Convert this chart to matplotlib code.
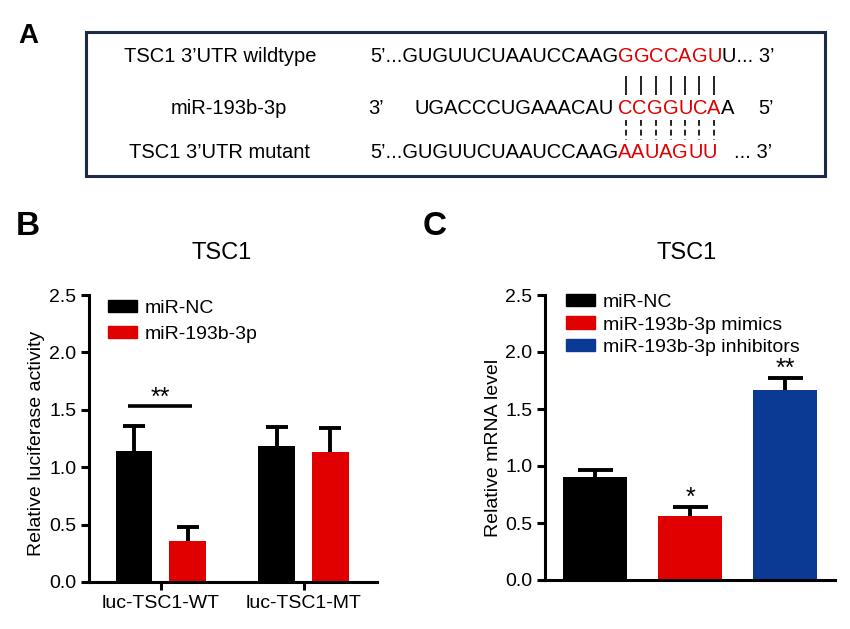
import matplotlib
matplotlib.use('Agg')
import matplotlib.pyplot as plt
import numpy as np
from matplotlib.patches import Rectangle, Patch

plt.rcParams['font.family'] = ['Liberation Sans', 'DejaVu Sans']

# ---------------- data ----------------
# Panel A: sequence alignment
row_labels = ["TSC1 3\u2019UTR wildtype", "miR-193b-3p", "TSC1 3\u2019UTR mutant"]
wt_left, wt_site, wt_right = "5\u2019...GUGUUCUAAUCCAAG", "GGCCAGU", "U... 3\u2019"
mir_end_l, mir_left, mir_site, mir_right, mir_end_r = "3\u2019", "UGACCCUGAAACAU", "CCGGUCA", "A", "5\u2019"
mut_left, mut_site, mut_right = "5\u2019...GUGUUCUAAUCCAAG", "AAUAGUU", "... 3\u2019"

# Panel B: luciferase assay
b_groups = ["luc-TSC1-WT", "luc-TSC1-MT"]
b_series = ["miR-NC", "miR-193b-3p"]
b_nc = [1.14, 1.185]
b_nc_err = [0.22, 0.165]
b_mir = [0.357, 1.132]
b_mir_err = [0.122, 0.209]
b_sig = "**"

# Panel C: qPCR
c_labels = ["miR-NC", "miR-193b-3p mimics", "miR-193b-3p inhibitors"]
c_vals = [0.904, 0.561, 1.667]
c_err = [0.061, 0.079, 0.105]
c_sig = ["", "*", "**"]

yticks = [0.0, 0.5, 1.0, 1.5, 2.0, 2.5]
ytick_labels = ["0.0", "0.5", "1.0", "1.5", "2.0", "2.5"]

RED = '#e00000'
BLUE = '#0a3a94'
BLACK = '#000000'
FS = 14
FSA = 14.5

W, H = 850, 629
fig = plt.figure(figsize=(W / 100, H / 100), dpi=100)

# overlay in pixel coordinates for panel A and panel letters
ov = fig.add_axes([0, 0, 1, 1])
ov.set_xlim(0, W)
ov.set_ylim(H, 0)
ov.axis('off')

# ---------- Panel A ----------
ov.text(28, 43, 'A', fontsize=20, fontweight='bold', ha='center', va='baseline')
ov.add_patch(Rectangle((86, 32), 739, 144, fill=False, lw=2.2, ec='#1d2b4b'))

row_y = [57, 109, 153]
ov.text(220, row_y[0], row_labels[0], fontsize=FSA, ha='center', va='center')
ov.text(229, row_y[1], row_labels[1], fontsize=FSA, ha='center', va='center')
ov.text(220, row_y[2], row_labels[2], fontsize=FSA, ha='center', va='center')

SITE_X = 618


def chain_letters(x, y, s, color):
    arts = []
    prev = None
    for ch in s:
        if prev is None:
            t = ov.text(x, y, ch, fontsize=FSA, color=color, ha='left', va='center')
        else:
            t = ov.annotate(ch, xy=(1, 0.5), xycoords=prev, fontsize=FSA, color=color,
                            ha='left', va='center')
        arts.append(t)
        prev = t
    return arts


# row 1 - wildtype
ov.text(SITE_X, row_y[0], wt_left, fontsize=FSA, ha='right', va='center')
wt_letters = chain_letters(SITE_X, row_y[0], wt_site, RED)
ov.annotate(wt_right, xy=(1, 0.5), xycoords=wt_letters[-1], fontsize=FSA, ha='left', va='center')

# row 2 - miRNA
ov.text(368, row_y[1], mir_end_l, fontsize=FSA, ha='left', va='center')
ov.text(SITE_X - 4, row_y[1], mir_left, fontsize=FSA, ha='right', va='center')
mir_letters = chain_letters(SITE_X, row_y[1], mir_site, RED)
ov.annotate(mir_right, xy=(1, 0.5), xycoords=mir_letters[-1], fontsize=FSA, ha='left', va='center')
ov.text(758, row_y[1], mir_end_r, fontsize=FSA, ha='left', va='center')

# row 3 - mutant
ov.text(SITE_X, row_y[2], mut_left, fontsize=FSA, ha='right', va='center')
chain_letters(SITE_X, row_y[2], mut_site, RED)
ov.text(772, row_y[2], mut_right, fontsize=FSA, ha='right', va='center')


def upper_errorbar(ax, x, v, e, capsize):
    _, caps, _ = ax.errorbar(x, v, yerr=[np.zeros(len(e)), e], fmt='none', ecolor=BLACK,
                             elinewidth=2.8, capsize=capsize, capthick=2.8, zorder=3)
    caps[0].remove()   # keep only the upper cap


# ---------- Panel B ----------
ov.text(28, 235, 'B', fontsize=24, fontweight='bold', ha='center', va='baseline')
ov.text(222, 259, 'TSC1', fontsize=17, ha='center', va='baseline')

axB = fig.add_axes([89 / W, (H - 582) / H, (377 - 89) / W, (582 - 295) / H])
xb = np.arange(len(b_groups))
bw = 0.256
off = 0.1874
axB.bar(xb - off, b_nc, width=bw, color=BLACK, label=b_series[0], zorder=2)
axB.bar(xb + off, b_mir, width=bw, color=RED, label=b_series[1], zorder=2)
upper_errorbar(axB, xb - off, b_nc, b_nc_err, 7.9)
upper_errorbar(axB, xb + off, b_mir, b_mir_err, 7.9)
# significance bracket for WT group
top_wt = max(b_nc[0] + b_nc_err[0], b_mir[0] + b_mir_err[0])
sig_y = top_wt + 0.175
axB.plot([xb[0] - off - 0.04, xb[0] + off + 0.03], [sig_y, sig_y], color=BLACK, lw=2.6,
         solid_capstyle='butt', zorder=3)
axB.text(xb[0], sig_y + 0.01, b_sig, fontsize=18, ha='center', va='baseline')

axB.set_xlim(-0.503, 1.515)
axB.set_ylim(0, 2.5)
axB.set_xticks(xb)
axB.set_xticklabels(b_groups, fontsize=FS)
axB.set_yticks(yticks)
axB.set_yticklabels(ytick_labels, fontsize=FS)
axB.set_ylabel('Relative luciferase activity', fontsize=FS)
axB.yaxis.set_label_coords(-0.153, 0.484)

# ---------- Panel C ----------
ov.text(435, 235, 'C', fontsize=24, fontweight='bold', ha='center', va='baseline')
ov.text(687, 259, 'TSC1', fontsize=17, ha='center', va='baseline')

axC = fig.add_axes([545 / W, (H - 580) / H, (835 - 545) / W, (580 - 295) / H])
xc = np.arange(len(c_labels))
c_colors = [BLACK, RED, BLUE]
for i in range(len(c_labels)):
    axC.bar(xc[i], c_vals[i], width=0.674, color=c_colors[i], label=c_labels[i], zorder=2)
upper_errorbar(axC, xc, c_vals, c_err, 12.6)
for i in range(len(c_labels)):
    if c_sig[i]:
        axC.text(xc[i], c_vals[i] + c_err[i] + 0.02, c_sig[i], fontsize=18,
                 ha='center', va='baseline')
axC.set_xlim(-0.526, 2.526)
axC.set_ylim(0, 2.5)
axC.set_xticks([])
axC.set_yticks(yticks)
axC.set_yticklabels(ytick_labels, fontsize=FS)
axC.set_ylabel('Relative mRNA level', fontsize=FS)
axC.yaxis.set_label_coords(-0.148, 0.463)

for ax in (axB, axC):
    for s in ('top', 'right'):
        ax.spines[s].set_visible(False)
    for s in ('left', 'bottom'):
        ax.spines[s].set_linewidth(2.2)
    ax.tick_params(axis='both', width=2.2, length=6, direction='out', pad=3, color=BLACK)

# legends
hB = [Patch(color=BLACK), Patch(color=RED)]
axB.legend(hB, b_series, loc='upper left', bbox_to_anchor=(108, 300),
           bbox_transform=ov.transData, frameon=False, borderpad=0, borderaxespad=0,
           handlelength=1.5, handleheight=0.6, handletextpad=0.4, labelspacing=0.44,
           fontsize=FS)
hC = [Patch(color=c) for c in c_colors]
axC.legend(hC, c_labels, loc='upper left', bbox_to_anchor=(566, 294),
           bbox_transform=ov.transData, frameon=False, borderpad=0, borderaxespad=0,
           handlelength=1.5, handleheight=0.6, handletextpad=0.4, labelspacing=0.28,
           fontsize=FS)

# complementarity bars in panel A, aligned to red letter centres
fig.canvas.draw()
inv = ov.transData.inverted()
for t in wt_letters:
    bb = t.get_window_extent()
    cx = inv.transform(((bb.x0 + bb.x1) / 2, 0))[0]
    ov.plot([cx, cx], [77, 94], color='#222222', lw=1.4)
    ov.plot([cx, cx], [120, 140], color='#222222', lw=1.4, linestyle=(0, (3, 2)))

fig.savefig('out.png', dpi=100)
